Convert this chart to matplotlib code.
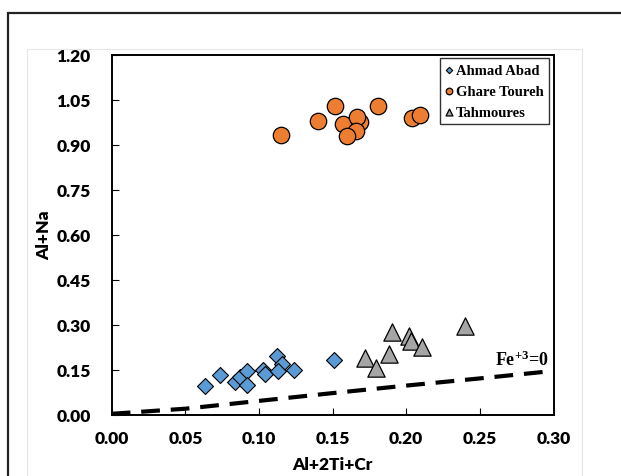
import numpy as np
import matplotlib
matplotlib.use('Agg')
import matplotlib.pyplot as plt
from matplotlib.patches import Rectangle

plt.rcParams['mathtext.fontset'] = 'custom'
plt.rcParams['mathtext.rm'] = 'Liberation Serif:bold'
plt.rcParams['mathtext.it'] = 'Liberation Serif:bold'
plt.rcParams['mathtext.bf'] = 'Liberation Serif:bold'

# Ahmad Abad (diamonds)
ahmad_x = [0.0634, 0.0735, 0.0837, 0.0871, 0.0917, 0.0917, 0.1030, 0.1041,
           0.1120, 0.1154, 0.1131, 0.1238, 0.1512]
ahmad_y = [0.097, 0.132, 0.110, 0.125, 0.147, 0.099, 0.150, 0.136,
           0.195, 0.169, 0.145, 0.149, 0.183]

# Ghare Toureh (circles)
ghare_x = [0.1147, 0.1399, 0.1516, 0.1573, 0.1686, 0.1663, 0.1657, 0.1596,
           0.1810, 0.2041, 0.2093]
ghare_y = [0.933, 0.980, 1.030, 0.969, 0.975, 0.991, 0.945, 0.928,
           1.030, 0.988, 0.999]

# Tahmoures (triangles)
tahm_x = [0.1900, 0.2021, 0.2030, 0.2109, 0.1885, 0.1720, 0.1795, 0.2397]
tahm_y = [0.276, 0.261, 0.247, 0.227, 0.202, 0.189, 0.156, 0.295]

# Fe3+ = 0 reference line
fe_x = [0.00, 0.05, 0.10, 0.15, 0.20, 0.25, 0.30]
fe_y = [0.003, 0.020, 0.046, 0.072, 0.097, 0.121, 0.146]

xticks = [0.00, 0.05, 0.10, 0.15, 0.20, 0.25, 0.30]
yticks = [0.00, 0.15, 0.30, 0.45, 0.60, 0.75, 0.90, 1.05, 1.20]

fig = plt.figure(figsize=(6.21, 4.77), dpi=100)

# outer frame and light inner box
fig.patches.append(Rectangle((8 / 621, -0.1), 1.0, 1 - 14 / 477 + 0.1,
                             transform=fig.transFigure, fill=False,
                             edgecolor='#222222', linewidth=1.6))
fig.patches.append(Rectangle((27 / 621, -0.1), (582 - 27) / 621, 1 - 50 / 477 + 0.1,
                             transform=fig.transFigure, fill=False,
                             edgecolor='#e6e6e6', linewidth=0.8))

ax = fig.add_axes([111.7 / 621, 1 - 415.7 / 477, (553.5 - 111.7) / 621, 360 / 477])

ax.plot(fe_x, fe_y, color='black', linewidth=3, linestyle=(0, (4.5, 2.6)), zorder=2)

ax.scatter(ahmad_x, ahmad_y, marker='D', s=66, color='#5B9BD5',
           edgecolor='black', linewidth=0.8, zorder=3, label='Ahmad Abad')
ax.scatter(ghare_x, ghare_y, marker='o', s=140, color='#ED7D31',
           edgecolor='black', linewidth=0.9, zorder=3, label='Ghare Toureh')
ax.scatter(tahm_x, tahm_y, marker='^', s=155, color='#A5A5A5',
           edgecolor='black', linewidth=0.9, zorder=3, label='Tahmoures')

ax.set_xlim(0, 0.30)
ax.set_ylim(0, 1.20)
ax.set_xticks(xticks)
ax.set_yticks(yticks)
ax.set_xticklabels([f'{v:.2f}' for v in xticks])
ax.set_yticklabels([f'{v:.2f}' for v in yticks])
ax.tick_params(direction='in', length=5, width=0.8)
ax.tick_params(axis='x', pad=11)
ax.tick_params(axis='y', pad=15)
for lab in ax.get_xticklabels() + ax.get_yticklabels():
    lab.set_fontfamily('Lato')
    lab.set_fontweight('heavy')
    lab.set_fontsize(12.5)
for sp in ax.spines.values():
    sp.set_linewidth(1.4)

ax.set_xlabel('Al+2Ti+Cr', fontfamily='Lato', fontweight='heavy', fontsize=12.5, labelpad=7)
ax.set_ylabel('Al+Na', fontfamily='Lato', fontweight='heavy', fontsize=12.5, labelpad=3)

ax.text(0.2600, 0.166, 'Fe$^{+3}$=0', fontfamily='Liberation Serif',
        fontweight='bold', fontsize=13, ha='left', va='baseline')

leg = ax.legend(loc='upper right', bbox_to_anchor=(0.99, 0.99), markerscale=0.4,
                handletextpad=0.25, handlelength=0.5, borderpad=0.35, labelspacing=0.55,
                fancybox=False, frameon=True, borderaxespad=0,
                prop={'family': 'Liberation Serif', 'weight': 'bold', 'size': 10.5})
leg.get_frame().set_edgecolor('black')
leg.get_frame().set_linewidth(1.0)

fig.savefig('out.png', dpi=100)
